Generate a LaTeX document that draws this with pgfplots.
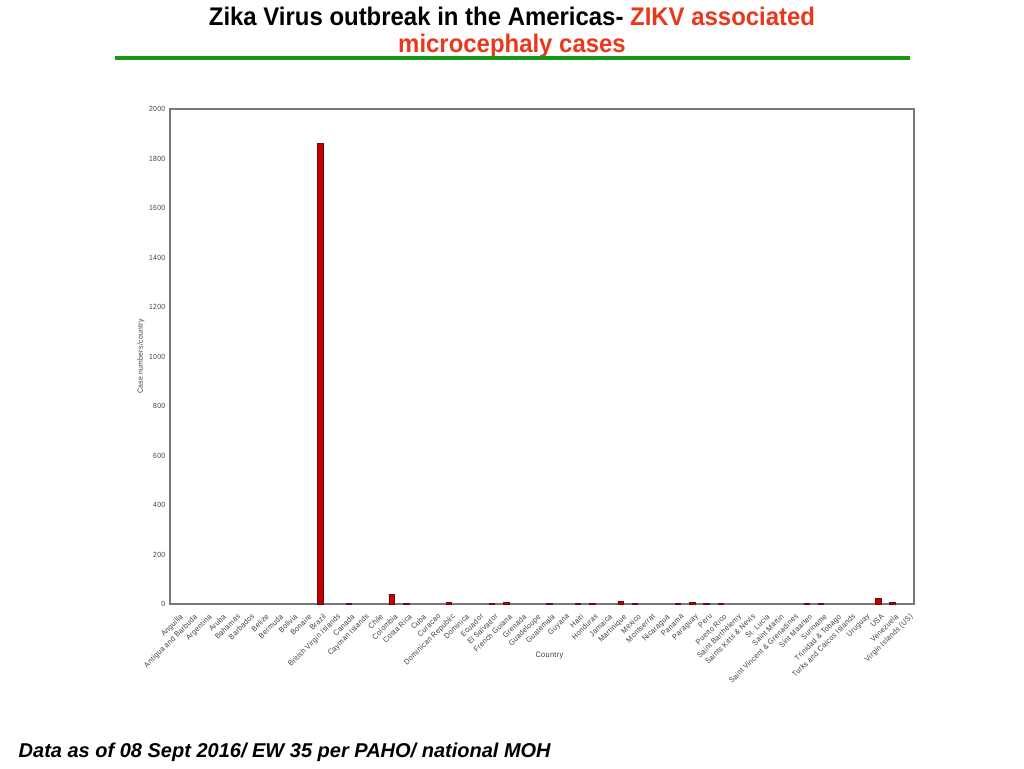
\documentclass[border=0pt]{standalone}
\usepackage{pgfplots}
\pgfplotsset{compat=1.18}
\usepackage{fontspec}
\setmainfont{Liberation Sans}
\newfontfamily\titlefont[FakeStretch=0.94]{Liberation Sans}
\newfontfamily\tickfont[FakeStretch=0.92,LetterSpace=4]{Liberation Sans}
\definecolor{barred}{RGB}{192,0,0}
\definecolor{bardark}{RGB}{110,10,10}
\definecolor{titlered}{RGB}{235,55,28}
\definecolor{linegreen}{RGB}{24,150,24}
\definecolor{axgray}{RGB}{120,120,120}
\definecolor{txtgray}{RGB}{65,65,65}
\begin{document}
\begin{tikzpicture}[x=0.75pt,y=0.75pt]
\useasboundingbox[fill=white] (0,0) rectangle (1024,768);
\node[font=\titlefont\fontsize{19.1}{21}\bfseries] at (512,752) {Zika Virus outbreak in the Americas- \textcolor{titlered}{ZIKV associated}};
\node[font=\titlefont\fontsize{19.1}{21}\bfseries, text=titlered] at (512,722) {microcephaly cases};
\draw[linegreen, line width=3pt] (115,710) -- (910,710);
\node[anchor=west, font=\fontsize{15}{17}\bfseries\itshape] at (14,16) {Data as of 08 Sept 2016/ EW 35 per PAHO/ national MOH};
\begin{axis}[
  at={(127.5pt,123pt)}, anchor=south west,
  width=558pt, height=371.25pt, scale only axis,
  xmin=-0.5, xmax=51.5, ymin=0, ymax=2000,
  ytick={0,200,...,2000},
  xtick={0,...,51},
  xticklabels={{Anguilla},{Antigua and Barbuda},{Argentina},{Aruba},{Bahamas},{Barbados},{Belize},{Bermuda},{Bolivia},{Bonaire},{Brazil},{British Virgin Islands},{Canada},{Cayman Islands},{Chile},{Colombia},{Costa Rica},{Cuba},{Curacao},{Dominican Republic},{Dominica},{Ecuador},{El Salvador},{French Guiana},{Grenada},{Guadeloupe},{Guatemala},{Guyana},{Haiti},{Honduras},{Jamaica},{Martinique},{Mexico},{Montserrat},{Nicaragua},{Panama},{Paraguay},{Peru},{Puerto Rico},{Saint Barthélemy},{Saints Kitts \& Nevis},{St. Lucia},{Saint Martin},{Saint Vincent \& Grenadines},{Sint Maarten},{Suriname},{Trinidad \& Tobago},{Turks and Caicos Islands},{Uruguay},{USA},{Venezuela},{Virgin Islands (US)}},
  x tick label style={rotate=45, anchor=north east, inner sep=1pt, yshift=-5pt, xshift=-2.5pt, font=\tickfont\fontsize{5.8}{6}\selectfont, text=txtgray},
  y tick label style={font=\tickfont\fontsize{5.6}{6}\selectfont, text=txtgray},
  /pgf/number format/assume math mode=true,
  /pgf/number format/1000 sep={},
  major tick length=0pt,
  axis line style={axgray, line width=0.8pt},
  xlabel={Country}, ylabel={Case numbers/country},
  xlabel style={at={(axis description cs:0.51,-0.105)}, anchor=center, font=\tickfont\fontsize{6}{6}\selectfont, text=txtgray},
  ylabel style={at={(axis description cs:-0.039,0.5)}, anchor=center, rotate=0, font=\tickfont\fontsize{5.6}{6}\selectfont, text=txtgray},
  ybar, bar width=4.2pt, bar shift=0pt,
  clip=false,
]
\addplot[fill=barred, draw=bardark, line width=0.5pt] coordinates {
(10,1860) (12,1) (15,40) (16,1) (19,5)
(22,4) (23,5) (26,2) (28,1) (29,2)
(31,12) (32,2) (35,4) (36,5) (37,2) (38,2)
(44,1) (45,2) (49,24) (50,5)
};
\end{axis}
\end{tikzpicture}
\end{document}
